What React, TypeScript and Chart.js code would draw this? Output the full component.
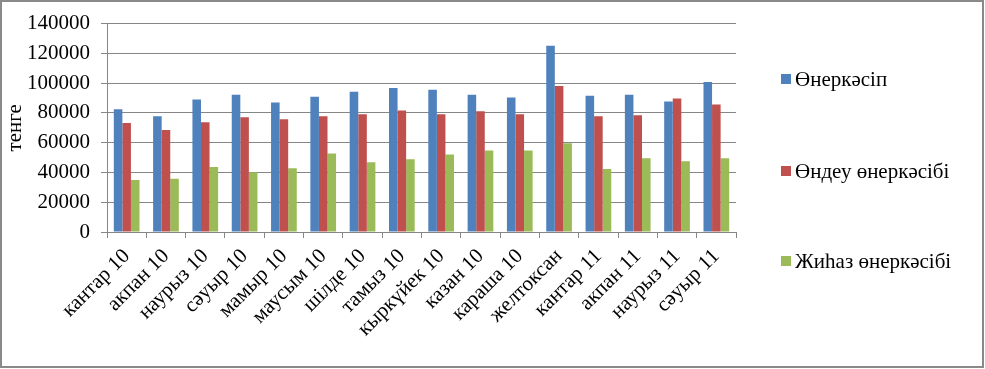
import React, { useEffect, useRef } from "react";
import { Chart, registerables } from "chart.js";

Chart.register(...registerables);

const categories = [
  "кантар 10", "акпан 10", "наурыз 10", "сәуыр 10", "мамыр 10", "маусым 10",
  "шілде 10", "тамыз 10", "кыркүйек 10", "казан 10", "караша 10", "желтоксан",
  "кантар 11", "акпан 11", "наурыз 11", "сәуыр 11",
];

const industry = [82400, 77800, 89000, 92200, 87000, 90900, 94200, 96800, 95500, 92200, 90300, 125100, 91600, 92200, 87600, 100800];
const processing = [73200, 68600, 73800, 77100, 75800, 77800, 79100, 81700, 79100, 81100, 79100, 98100, 77800, 78400, 89600, 85700];
const furniture = [35000, 35700, 43600, 40100, 42900, 52800, 46900, 48900, 52100, 54800, 54800, 59600, 42300, 49500, 47500, 49500];

const seriesNames = ["Өнеркәсіп", "Өндеу өнеркәсібі", "Жиһаз өнеркәсібі"];
const seriesColors = ["#4F81BD", "#C0504D", "#9BBB59"];
const yTitle = "тенге";

const FONT = "'Liberation Serif', 'DejaVu Serif', 'Times New Roman', serif";

export default function App() {
  const ref = useRef<HTMLCanvasElement | null>(null);

  useEffect(() => {
    if (!ref.current) return;
    const chart = new Chart(ref.current, {
      type: "bar",
      data: {
        labels: categories,
        datasets: [industry, processing, furniture].map((d, i) => ({
          label: seriesNames[i],
          data: d,
          backgroundColor: seriesColors[i],
          borderWidth: 0,
          categoryPercentage: 0.654,
          barPercentage: 1,
        })),
      },
      options: {
        animation: false,
        responsive: false,
        maintainAspectRatio: false,
        layout: { padding: { left: 0, top: 19, right: 249, bottom: 0 } },
        plugins: { legend: { display: false }, tooltip: { enabled: false } },
        scales: {
          x: {
            afterFit: (s: any) => { s.height = 137; },
            grid: { drawOnChartArea: false, drawTicks: true, tickLength: 6, color: "#868686", offset: true },
            border: { display: true, color: "#868686" },
            ticks: {
              autoSkip: false,
              minRotation: 45,
              maxRotation: 45,
              color: "#000",
              padding: 6,
              font: { family: FONT, size: 21 },
            },
          },
          y: {
            min: 0,
            max: 140000,
            afterFit: (s: any) => { s.width = 107; },
            grid: { color: "#868686", tickLength: 6, drawTicks: true },
            border: { display: true, color: "#868686" },
            ticks: {
              stepSize: 20000,
              color: "#000",
              padding: 11,
              font: { family: FONT, size: 21 },
              callback: (v: any) => String(v),
            },
            title: {
              display: true,
              text: yTitle,
              color: "#000",
              font: { family: FONT, size: 21 },
              padding: { top: 3, bottom: 0 },
            },
          },
        },
      },
    });
    return () => chart.destroy();
  }, []);

  const legendY = [79, 171, 261];

  return (
    <div style={{ position: "fixed", left: 0, top: 0, width: 985, height: 369, background: "#fff" }}>
      <canvas ref={ref} width={985} height={369} style={{ position: "absolute", left: 0, top: 0, width: 985, height: 369 }} />
      {seriesNames.map((n, i) => (
        <div key={n} style={{ position: "absolute", left: 781, top: legendY[i] - 12, height: 24, display: "flex", alignItems: "center", fontFamily: FONT, fontSize: 21, color: "#000", whiteSpace: "nowrap" }}>
          <span style={{ display: "inline-block", width: 10, height: 10, background: seriesColors[i], marginRight: 4 }} />
          <span>{n}</span>
        </div>
      ))}
      <div style={{ position: "absolute", left: 0, top: 0, width: 984, height: 368, boxSizing: "border-box", border: "2px solid #8a8a8a", pointerEvents: "none" }} />
    </div>
  );
}
